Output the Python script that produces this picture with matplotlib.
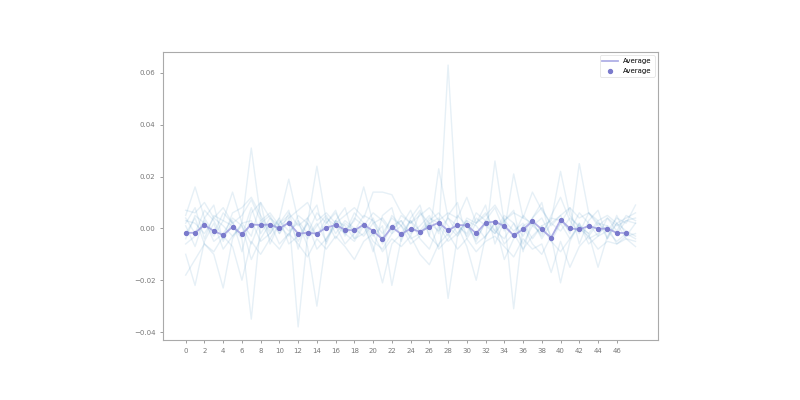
import numpy as np
import matplotlib
matplotlib.use("Agg")
import matplotlib.pyplot as plt

# light runs, one list per run, index 0..48
runs = [
    [0.003, 0.002, -0.002, 0.004, 0.001, -0.003, 0.002, 0.031, 0.004, -0.002, 0.003, -0.001, 0.002, -0.004, 0.001, 0.005, -0.002, 0.003, 0.000, -0.003, 0.002, 0.004, -0.001, 0.003, -0.002, 0.001, 0.005, -0.002, 0.063, 0.002, -0.003, 0.004, 0.001, -0.002, 0.003, -0.001, 0.002, -0.004, 0.001, 0.003, 0.022, 0.005, 0.000, -0.003, 0.002, 0.001, -0.002, 0.003, 0.004],
    [-0.004, 0.005, 0.002, -0.003, 0.003, 0.001, -0.004, -0.035, 0.002, 0.005, -0.002, 0.003, -0.005, 0.002, -0.003, 0.004, 0.001, -0.002, 0.006, 0.002, -0.003, 0.001, -0.022, -0.004, 0.003, -0.001, 0.004, 0.002, -0.003, 0.005, 0.001, -0.004, 0.002, -0.002, 0.004, -0.031, 0.001, 0.003, -0.004, 0.002, -0.001, 0.004, 0.001, -0.002, 0.003, -0.004, 0.002, -0.001, -0.003],
    [0.005, 0.016, 0.004, -0.002, 0.006, 0.002, -0.003, 0.008, -0.002, 0.004, 0.001, -0.003, 0.005, 0.002, 0.024, 0.003, -0.004, 0.002, -0.001, 0.005, 0.003, -0.002, 0.004, 0.001, -0.003, 0.006, 0.002, -0.001, 0.004, -0.002, 0.003, 0.001, -0.004, 0.026, 0.002, -0.003, 0.005, 0.001, -0.002, 0.004, 0.003, -0.001, 0.006, 0.002, -0.003, 0.004, 0.001, 0.003, 0.002],
    [-0.006, -0.003, 0.003, -0.005, -0.002, 0.004, 0.001, -0.006, 0.003, -0.004, 0.002, 0.005, -0.038, -0.003, 0.002, -0.005, 0.003, 0.001, -0.004, -0.002, 0.004, -0.006, 0.001, 0.003, -0.004, -0.002, 0.002, 0.004, -0.027, -0.003, 0.002, -0.005, 0.003, -0.001, -0.004, 0.002, -0.006, 0.001, 0.004, -0.003, 0.002, -0.004, 0.001, -0.002, -0.015, -0.003, 0.002, -0.004, -0.005],
    [0.002, 0.008, -0.004, 0.005, 0.003, 0.014, 0.002, -0.003, 0.010, 0.004, -0.002, 0.006, 0.001, 0.004, -0.003, 0.002, 0.006, -0.001, 0.003, 0.016, 0.002, -0.004, 0.005, 0.001, 0.007, -0.002, 0.003, 0.006, 0.001, -0.003, 0.004, 0.002, 0.006, -0.001, 0.005, 0.002, -0.003, 0.004, 0.008, 0.001, 0.005, -0.002, 0.025, 0.006, 0.002, -0.001, 0.004, 0.002, 0.009],
    [-0.010, -0.022, -0.005, 0.002, -0.008, -0.003, 0.001, -0.012, -0.004, 0.002, -0.006, -0.002, 0.003, -0.007, -0.030, -0.004, 0.001, -0.006, -0.002, 0.002, -0.005, -0.008, -0.002, 0.001, -0.006, -0.003, 0.002, -0.008, -0.004, 0.001, -0.007, -0.020, -0.003, 0.002, -0.006, -0.002, -0.008, -0.003, 0.001, -0.005, -0.009, -0.004, 0.002, -0.006, -0.003, -0.001, -0.005, -0.002, -0.004],
    [0.004, -0.002, 0.007, 0.003, -0.004, 0.006, 0.008, 0.012, 0.005, -0.001, 0.004, 0.019, 0.003, -0.002, 0.006, 0.002, 0.007, -0.003, 0.004, 0.001, 0.006, 0.003, -0.002, 0.005, 0.002, 0.007, -0.003, 0.023, 0.004, 0.001, -0.002, 0.006, 0.003, 0.008, -0.001, 0.021, 0.004, 0.002, -0.003, 0.005, 0.012, 0.003, -0.002, 0.006, 0.001, 0.004, -0.001, 0.005, 0.003],
    [-0.002, 0.004, -0.006, -0.010, -0.023, -0.004, 0.002, 0.003, -0.005, -0.002, 0.004, -0.006, -0.003, 0.002, -0.008, -0.004, 0.003, -0.002, -0.005, 0.001, -0.007, -0.021, -0.006, -0.002, 0.003, -0.004, -0.008, 0.001, -0.005, -0.002, 0.003, -0.006, -0.003, 0.002, -0.012, -0.004, 0.001, -0.006, -0.010, -0.003, -0.021, -0.005, 0.002, -0.004, -0.002, 0.001, -0.006, -0.003, -0.002],
    [0.007, 0.006, 0.010, 0.004, 0.008, 0.002, 0.005, 0.011, 0.003, 0.006, 0.001, 0.004, 0.007, 0.010, 0.003, 0.006, 0.002, 0.005, 0.008, 0.004, 0.014, 0.014, 0.013, 0.006, 0.002, 0.005, 0.008, 0.003, 0.006, 0.004, 0.012, 0.002, 0.005, 0.009, 0.003, 0.006, 0.004, 0.014, 0.007, 0.002, 0.005, 0.008, 0.004, 0.006, 0.003, 0.005, 0.002, 0.004, 0.006],
    [-0.018, -0.012, -0.006, -0.009, -0.003, -0.007, -0.020, -0.005, -0.010, -0.004, -0.008, -0.002, -0.006, -0.011, -0.004, -0.008, -0.003, -0.007, -0.012, -0.005, -0.002, -0.009, -0.004, -0.007, -0.003, -0.010, -0.014, -0.006, -0.002, -0.008, -0.004, -0.009, -0.005, -0.003, -0.007, -0.011, -0.004, -0.008, -0.006, -0.017, -0.005, -0.015, -0.007, -0.003, -0.008, -0.005, -0.006, -0.004, -0.007],
    [0.001, -0.007, 0.004, 0.009, -0.005, 0.003, -0.009, 0.006, 0.010, -0.006, 0.002, 0.007, -0.008, 0.004, 0.009, -0.006, 0.003, 0.008, -0.004, 0.002, -0.009, 0.005, 0.008, -0.005, 0.004, 0.009, -0.003, -0.007, 0.005, 0.010, -0.004, 0.002, 0.009, -0.006, 0.003, 0.007, -0.009, 0.004, 0.010, -0.005, 0.002, 0.008, -0.006, 0.003, 0.007, -0.004, 0.005, -0.003, 0.002],
]

average = [-0.0017, -0.0017, 0.0013, -0.0010, -0.0026, 0.0006, -0.0023, 0.0015, 0.0013, 0.0015,
           0.0000, 0.0022, -0.0020, -0.0017, -0.0020, 0.0003, 0.0013, -0.0005, -0.0008, 0.0015,
           -0.0010, -0.0042, 0.0005, -0.0022, -0.0001, -0.0013, 0.0006, 0.0022, -0.0008, 0.0013,
           0.0012, -0.0019, 0.0022, 0.0026, 0.0009, -0.0027, -0.0004, 0.0028, -0.0004, -0.0036,
           0.0033, 0.0000, -0.0004, 0.0009, -0.0001, -0.0001, -0.0017, -0.0018]

xticks = list(range(0, 48, 2))

fig = plt.figure(figsize=(8, 4), dpi=100)
ax = fig.add_axes([0.204, 0.15, 0.6185, 0.72])

for r in runs:
    ax.plot(np.arange(len(r)), r, color="#1f77b4", alpha=0.11, lw=1)

xa = np.arange(len(average))
ax.plot(xa, average, color="#9c9ce0", alpha=0.8, lw=1.3, label="Average")
ax.scatter(xa, average, color="#7a7acc", s=8, zorder=3, label="Average")

ax.set_xticks(xticks)
ax.tick_params(labelsize=5, colors="#777777", length=2, width=0.5)
for s in ax.spines.values():
    s.set_color("#aaaaaa")
    s.set_linewidth(0.8)

leg = ax.legend(loc="upper right", fontsize=5, frameon=True, handlelength=2.2)
leg.get_frame().set_edgecolor("#dddddd")
leg.get_frame().set_linewidth(0.6)

fig.savefig("out.png", dpi=100)
